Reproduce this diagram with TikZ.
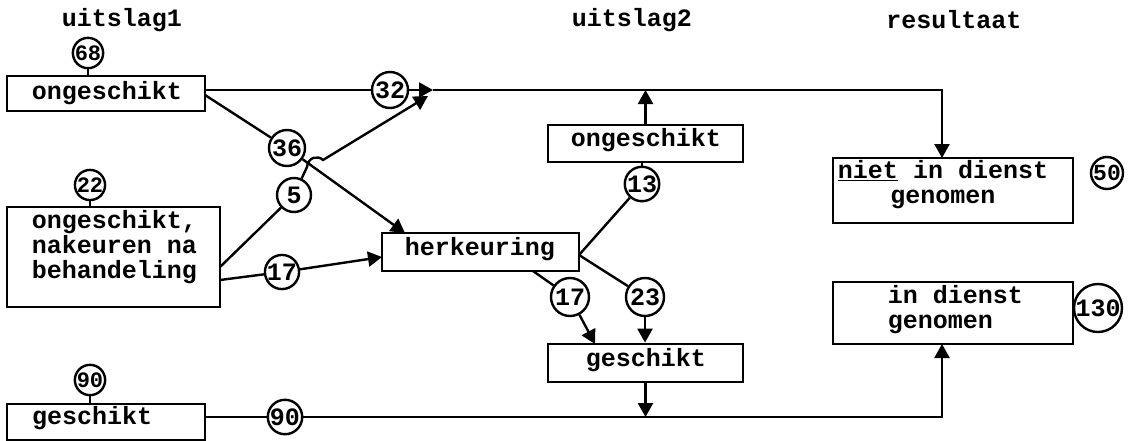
\documentclass[tikz,border=0pt]{standalone}
\usepackage{fontspec}
\setmainfont{Liberation Mono}
\usetikzlibrary{arrows.meta,calc}
\begin{document}
\begin{tikzpicture}[x=1pt,y=-1pt,
 every node/.style={font=\fontsize{25}{25}\selectfont\bfseries},
 box/.style={draw, line width=2.8pt, rectangle, inner sep=0pt},
 num/.style={draw, circle, line width=2.4pt, inner sep=0pt, minimum size=36pt},
 smallnum/.style={num, minimum size=27pt, font=\fontsize{22}{22}\selectfont\bfseries},
 ln/.style={line width=2.4pt},
 arr/.style={ln, -{Triangle[length=14pt,width=15pt]}}]
\useasboundingbox (0,0) rectangle (1136,440);

% titles
\node (t1) at (122,20) {uitslag1};
\node (t2) at (632,20) {uitslag2};
\node (t3) at (954,20) {resultaat};

% boxes column 1
\node[box, minimum width=198pt, minimum height=35pt] (b1) at (106,93.5) {};
\node[inner sep=0pt] (b1t) at (107,93) {ongeschikt};
\node[box, minimum width=213pt, minimum height=100pt] (b2) at (113.5,257) {};
\node[inner sep=0pt, align=left] (b2t) at (114.5,247) {ongeschikt,\\nakeuren na\\behandeling};
\node[box, minimum width=198pt, minimum height=36pt] (b3) at (106,422) {};
\node[inner sep=0pt, anchor=west] (b3t) at (32,418) {geschikt};

% middle boxes
\node[box, minimum width=197pt, minimum height=38pt] (herk) at (480.5,252) {};
\node[inner sep=0pt] (herkt) at (480,249) {herkeuring};
\node[box, minimum width=195pt, minimum height=37pt] (o2) at (645.5,143.5) {};
\node[inner sep=0pt] (o2t) at (646,140) {ongeschikt};
\node[box, minimum width=195pt, minimum height=38pt] (g2) at (645.5,363) {};
\node[inner sep=0pt] (g2t) at (646,360) {geschikt};

% result boxes
\node[box, minimum width=240pt, minimum height=65pt] (niet) at (953,190.5) {};
\node[inner sep=0pt, align=center] (nietT) at (943,185) {\underline{niet} in dienst\\genomen};
\node[box, minimum width=240pt, minimum height=62pt] (indienst) at (953,313) {};
\node[inner sep=0pt, align=left] (indienstT) at (955.5,310) {in dienst\\genomen};

% count circles
\node[smallnum] (c68) at (88,53) {68};
\node[smallnum] (c22) at (90,185) {22};
\node[smallnum] (c90) at (90,380) {90};
\node[num] (c32) at (390,90) {32};
\node[num] (c36) at (287,148) {36};
\node[num, minimum size=34pt] (c5) at (294,195) {5};
\node[num, minimum size=34pt] (c17a) at (282,272) {17};
\node[num, minimum size=32pt] (c13) at (642,184) {13};
\node[num, minimum size=38pt] (c17b) at (570,297) {17};
\node[num, minimum size=38pt] (c23) at (645,297) {23};
\node[num, minimum size=34pt] (c90b) at (285,417) {90};
\node[num, minimum size=32pt, font=\fontsize{23}{23}\selectfont\bfseries] (c50) at (1107,173) {50};
\node[num, minimum size=48pt] (c130) at (1098,308) {130};

% junction points
\coordinate (J) at (433,90);
\coordinate (J2) at (428,96);
\coordinate (h1) at (307,167);
\coordinate (h2) at (323,160);
\coordinate (nt) at (942,158);
\coordinate (ib) at (942,344);
\coordinate (h36) at (405,233);
\coordinate (hw) at (382,257);
\coordinate (b2a) at (220,267);
\coordinate (b2b) at (220,280);
\coordinate (hb) at (533,271);
\coordinate (he) at (579,255);
\coordinate (g2a) at (595,344);

% stems
\draw[ln] (c68) -- (c68 |- b1.north);
\draw[ln] (c22) -- (c22 |- b2.north);
\draw[ln] (c90) -- (c90 |- b3.north);
\draw[ln] (c13) -- (c13 |- o2.south);

% ongeschikt (1)
\draw[ln] (b1.east |- c32) -- (c32);
\draw[arr] (c32) -- (J);
\draw[arr] (J) -| (nt);
\draw[ln] (205,95) -- (c36);
\draw[arr] (c36) -- (h36);

% ongeschikt, nakeuren
\draw[ln] (b2a) -- (c5);
\draw[arr] (c5) -- (h1) .. controls (308,157) and (318,155) .. (h2) -- (J2);
\draw[ln] (b2b) -- (c17a);
\draw[arr] (c17a) -- (hw);

% herkeuring
\draw[ln] (he) -- (c13);
\draw[arr] (o2.north) -- (o2.north |- J);
\draw[ln] (hb) -- (c17b);
\draw[arr] (c17b) -- (g2a);
\draw[ln] (he) -- (c23);
\draw[arr] (c23) -- (c23 |- g2.north);
\draw[arr] (g2.south) -- (g2.south |- c90b);

% geschikt
\draw[ln] (b3.east |- c90b) -- (c90b);
\draw[arr] (c90b) -| (ib);
\end{tikzpicture}
\end{document}
